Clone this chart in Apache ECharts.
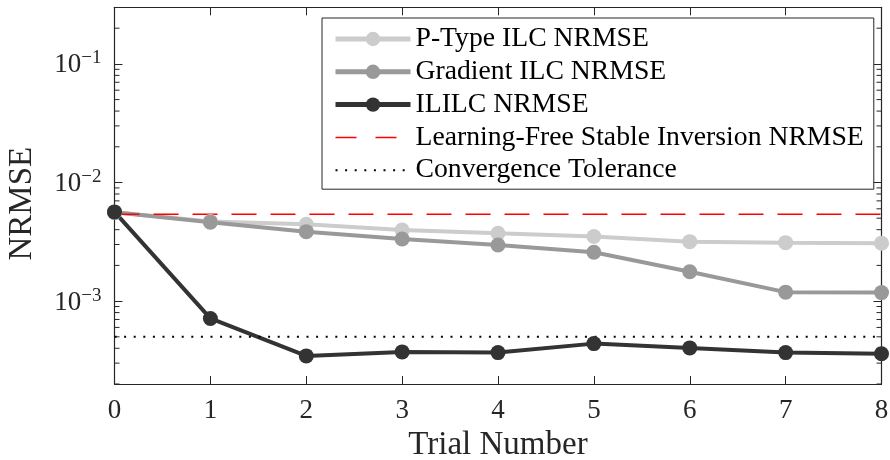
<!DOCTYPE html>
<html>
<head>
<meta charset="utf-8">
<script src="https://cdn.jsdelivr.net/npm/echarts@6/dist/echarts.min.js"></script>
<style>
html,body{margin:0;padding:0;background:#fff;}
#chart{width:890px;height:460px;}
</style>
</head>
<body>
<div id="chart"></div>
<script>
// ---- data ----
var trials = [0, 1, 2, 3, 4, 5, 6, 7, 8];
var pTypeNRMSE    = [5.6e-3, 4.7e-3, 4.45e-3, 3.98e-3, 3.73e-3, 3.50e-3, 3.17e-3, 3.11e-3, 3.08e-3];
var gradientNRMSE = [5.6e-3, 4.63e-3, 3.85e-3, 3.34e-3, 2.97e-3, 2.58e-3, 1.77e-3, 1.19e-3, 1.18e-3];
var ililcNRMSE    = [5.65e-3, 7.14e-4, 3.45e-4, 3.73e-4, 3.68e-4, 4.38e-4, 4.03e-4, 3.68e-4, 3.6e-4];
var stableInversionNRMSE = [5.41e-3, 5.41e-3, 5.41e-3, 5.41e-3, 5.41e-3, 5.41e-3, 5.41e-3, 5.41e-3, 5.41e-3];
var convergenceTol = [5e-4, 5e-4, 5e-4, 5e-4, 5e-4, 5e-4, 5e-4, 5e-4, 5e-4];
var seriesNames = ['P-Type ILC NRMSE', 'Gradient ILC NRMSE', 'ILILC NRMSE',
                   'Learning-Free Stable Inversion NRMSE', 'Convergence Tolerance'];
var yMin = 2e-4, yMax = 0.3;
var minorMantissas = [2, 3, 4, 5, 6, 7, 8, 9];
var minorExponents = [-4, -3, -2, -1];

function pairs(ys) { return trials.map(function (x, i) { return [x, ys[i]]; }); }

var FONT = 'Liberation Serif';
var AX = '#262626';
var chart = echarts.init(document.getElementById('chart'), null, { renderer: 'canvas' });

function yLabel(v) {
  var l = Math.log10(v);
  var e = Math.round(l);
  if (Math.abs(l - e) > 1e-6) return '';
  return '{b|10}{s|' + (e < 0 ? '\u2212' : '') + Math.abs(e) + '}';
}

var lineSeries = function (name, data, color) {
  return {
    name: name, type: 'line', data: pairs(data),
    symbol: 'circle', symbolSize: 15, showSymbol: true,
    clip: false,
    lineStyle: { color: color, width: 4 },
    itemStyle: { color: color },
    emphasis: { disabled: true },
    animation: false
  };
};

var option = {
  animation: false,
  backgroundColor: '#ffffff',
  grid: { left: 114.5, right: 8.5, top: 7.3, bottom: 76, containLabel: false, outerBoundsMode: 'none' },
  legend: {
    orient: 'vertical', left: 322, top: 18,
    padding: [7, 10, 5, 11],
    itemGap: 4.8, itemWidth: 75, itemHeight: 18,
    backgroundColor: '#ffffff', borderColor: AX, borderWidth: 1,
    textStyle: { fontFamily: FONT, fontSize: 27.7, color: '#000', lineHeight: 28, width: 447 },
    data: [
      { name: seriesNames[0], lineStyle: { width: 5 } },
      { name: seriesNames[1], lineStyle: { width: 5 } },
      { name: seriesNames[2], lineStyle: { width: 5 } },
      { name: seriesNames[3], lineStyle: { width: 1.5, type: [21, 19] }, itemStyle: { opacity: 0 } },
      { name: seriesNames[4], lineStyle: { width: 2, type: [2, 7.6] }, itemStyle: { opacity: 0 } }
    ],
    selectedMode: false
  },
  xAxis: [{
    type: 'value', min: 0, max: 8, interval: 1, position: 'bottom',
    axisLine: { show: true, onZero: false, lineStyle: { color: AX, width: 1.2 } },
    axisTick: { show: true, inside: true, length: 8, lineStyle: { color: AX, width: 1 } },
    axisLabel: { fontFamily: FONT, fontSize: 27, color: AX, margin: 13 },
    splitLine: { show: false },
    name: 'Trial Number', nameLocation: 'middle', nameGap: 42,
    nameTextStyle: { fontFamily: FONT, fontSize: 33, color: AX }
  }, {
    type: 'value', min: 0, max: 8, interval: 1, position: 'top',
    axisLine: { show: true, onZero: false, lineStyle: { color: AX, width: 1.2 } },
    axisTick: { show: true, inside: true, length: 8, lineStyle: { color: AX, width: 1 } },
    axisLabel: { show: false }, splitLine: { show: false }
  }],
  yAxis: [{
    type: 'log', logBase: 10, min: yMin, max: yMax, position: 'left',
    axisLine: { show: true, onZero: false, lineStyle: { color: AX, width: 1.2 } },
    axisTick: { show: true, inside: true, length: 8, lineStyle: { color: AX, width: 1 } },
    axisLabel: {
      formatter: yLabel, margin: 13, showMinLabel: false, showMaxLabel: false,
      rich: {
        b: { fontFamily: FONT, fontSize: 27, color: AX, verticalAlign: 'bottom', lineHeight: 30 },
        s: { fontFamily: FONT, fontSize: 19, color: AX, verticalAlign: 'top', lineHeight: 30 }
      }
    },
    splitLine: { show: false }, minorTick: { show: false },
    name: 'NRMSE', nameLocation: 'middle', nameGap: 76, nameRotate: 90,
    nameTextStyle: { fontFamily: FONT, fontSize: 33, color: AX, padding: [0, 16, 0, 0] }
  }, {
    type: 'log', logBase: 10, min: yMin, max: yMax, position: 'right',
    axisLine: { show: true, onZero: false, lineStyle: { color: AX, width: 1.2 } },
    axisTick: { show: true, inside: true, length: 8, lineStyle: { color: AX, width: 1 } },
    axisLabel: { show: false }, splitLine: { show: false }
  }],
  series: [
    lineSeries(seriesNames[0], pTypeNRMSE, '#cccccc'),
    lineSeries(seriesNames[1], gradientNRMSE, '#999999'),
    lineSeries(seriesNames[2], ililcNRMSE, '#333333'),
    {
      name: seriesNames[3], type: 'line', data: pairs(stableInversionNRMSE),
      showSymbol: false, symbol: 'none',
      lineStyle: { color: '#ff0000', width: 1.5, type: [25, 14] },
      itemStyle: { color: '#ff0000' }, emphasis: { disabled: true }
    },
    {
      name: seriesNames[4], type: 'line', data: pairs(convergenceTol),
      showSymbol: false, symbol: 'none',
      lineStyle: { color: '#000000', width: 2, type: [2, 7.6] },
      itemStyle: { color: '#000000' }, emphasis: { disabled: true }
    }
  ]
};
chart.setOption(option);

// minor log ticks (2..9 x 10^k) on left and right axes, positioned by the axis scale
var xl = chart.convertToPixel({ xAxisIndex: 0 }, 0);
var xr = chart.convertToPixel({ xAxisIndex: 0 }, 8);
var g = [];
minorExponents.forEach(function (e) {
  minorMantissas.forEach(function (m) {
    var v = m * Math.pow(10, e);
    if (v < yMin || v > yMax) return;
    var y = chart.convertToPixel({ yAxisIndex: 0 }, v);
    g.push({ type: 'line', silent: true, shape: { x1: xl, y1: y, x2: xl + 5, y2: y }, style: { stroke: AX, lineWidth: 1 } });
    g.push({ type: 'line', silent: true, shape: { x1: xr, y1: y, x2: xr - 5, y2: y }, style: { stroke: AX, lineWidth: 1 } });
  });
});
chart.setOption({ graphic: g });
</script>
</body>
</html>
